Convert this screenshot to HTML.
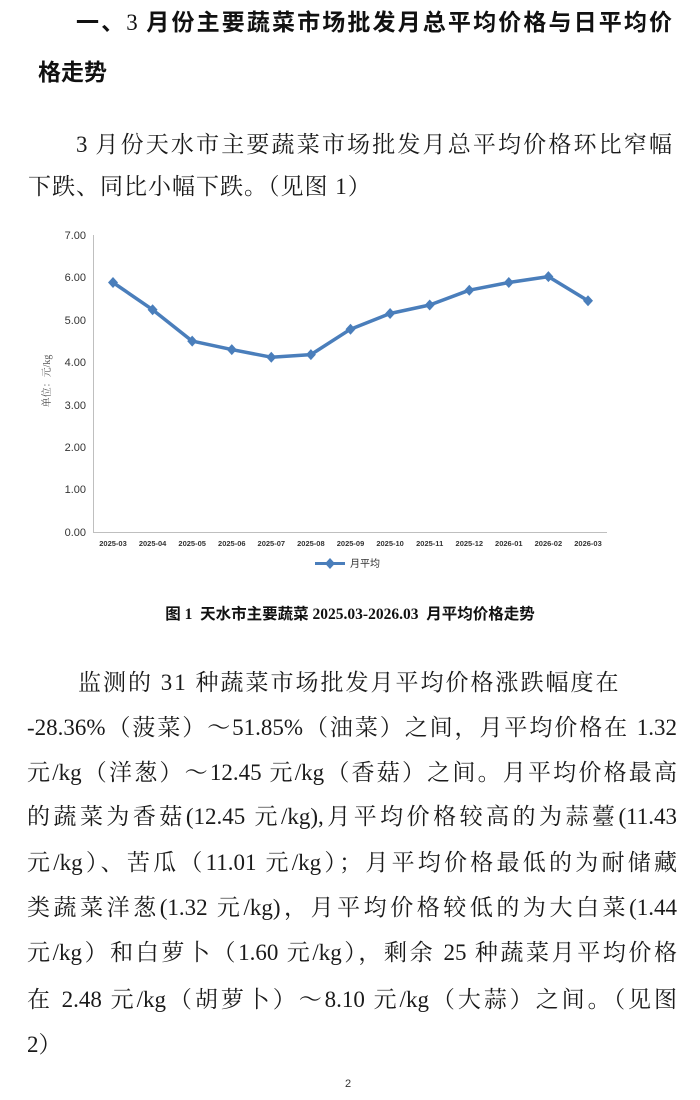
<!DOCTYPE html>
<html><head><meta charset="utf-8"><style>
body{margin:0;background:#fff;}
#p{position:relative;width:700px;height:1100px;overflow:hidden;background:#fff;color:#111;}
.t{position:absolute;white-space:nowrap;font-family:"Liberation Sans","Noto Sans CJK SC",sans-serif;font-weight:bold;font-size:23px;line-height:30px;}
.t .n{font-family:"Liberation Serif",serif;font-weight:normal;}
.b{position:absolute;white-space:nowrap;font-family:"Liberation Serif","Noto Serif CJK SC",serif;font-size:23px;line-height:30px;color:#1a1a1a;}
.j{left:27px;width:650px;text-align:justify;text-align-last:justify;}
</style></head><body><div id="p">
<div class="t" style="left:76px;top:7px;width:596px;text-align-last:justify;">一、<span class="n">3</span> 月份主要蔬菜市场批发月总平均价格与日平均价</div>
<div class="t" style="left:38px;top:57px;">格走势</div>
<div class="b" style="left:76px;top:130px;width:596px;text-align-last:justify;">3 月份天水市主要蔬菜市场批发月总平均价格环比窄幅</div>
<div class="b" style="left:28px;top:172px;letter-spacing:1px;">下跌、同比小幅下跌。（见图 1）</div>

<svg style="position:absolute;left:0;top:0" width="700" height="600" font-family="Liberation Sans, sans-serif">
<g stroke="#bfbfbf" stroke-width="1" fill="none">
<line x1="93.5" y1="235" x2="93.5" y2="532"/>
<line x1="93" y1="532.5" x2="607" y2="532.5"/>
</g>
<g font-size="11" fill="#333" text-anchor="end">
<text x="86" y="239">7.00</text><text x="86" y="281">6.00</text><text x="86" y="324">5.00</text><text x="86" y="366">4.00</text><text x="86" y="409">3.00</text><text x="86" y="451">2.00</text><text x="86" y="493">1.00</text><text x="86" y="536">0.00</text>
</g>
<text transform="translate(50,381) rotate(-90)" font-size="10" fill="#555" text-anchor="middle" font-family="Liberation Serif, Noto Serif CJK SC, serif">单位：元/kg</text>
<g font-size="7.5" font-weight="bold" fill="#333" text-anchor="middle">
<text x="113" y="546">2025-03</text><text x="152.6" y="546">2025-04</text><text x="192.2" y="546">2025-05</text><text x="231.8" y="546">2025-06</text><text x="271.3" y="546">2025-07</text><text x="310.9" y="546">2025-08</text><text x="350.5" y="546">2025-09</text><text x="390.1" y="546">2025-10</text><text x="429.7" y="546">2025-11</text><text x="469.3" y="546">2025-12</text><text x="508.8" y="546">2026-01</text><text x="548.4" y="546">2026-02</text><text x="588" y="546">2026-03</text>
</g>
<polyline fill="none" stroke="#4a7ebb" stroke-width="3.5" stroke-linejoin="round" points="113,282.5 152.6,309.7 192.2,341.1 231.8,349.6 271.3,357.2 310.9,354.6 350.5,329.2 390.1,313.5 429.7,305 469.3,290.2 508.8,282.5 548.4,276.6 588,300.8"/>
<g fill="#4a7ebb">
<path d="M113 277l5 5.5-5 5.5-5-5.5z"/><path d="M152.6 304.2l5 5.5-5 5.5-5-5.5z"/><path d="M192.2 335.6l5 5.5-5 5.5-5-5.5z"/><path d="M231.8 344.1l5 5.5-5 5.5-5-5.5z"/><path d="M271.3 351.7l5 5.5-5 5.5-5-5.5z"/><path d="M310.9 349.1l5 5.5-5 5.5-5-5.5z"/><path d="M350.5 323.7l5 5.5-5 5.5-5-5.5z"/><path d="M390.1 308l5 5.5-5 5.5-5-5.5z"/><path d="M429.7 299.5l5 5.5-5 5.5-5-5.5z"/><path d="M469.3 284.7l5 5.5-5 5.5-5-5.5z"/><path d="M508.8 277l5 5.5-5 5.5-5-5.5z"/><path d="M548.4 271.1l5 5.5-5 5.5-5-5.5z"/><path d="M588 295.3l5 5.5-5 5.5-5-5.5z"/>
<rect x="315" y="562" width="30" height="3"/><path d="M330 558l5 5.5-5 5.5-5-5.5z"/>
</g>
<text x="350" y="567" font-size="10" fill="#333" font-family="Liberation Sans, Noto Sans CJK SC, sans-serif">月平均</text>
</svg>

<div style="position:absolute;left:127px;top:604px;width:446px;text-align:center;white-space:nowrap;font-family:'Liberation Serif','Noto Sans CJK SC',serif;font-weight:bold;font-size:15.5px;line-height:22px;">图 1&nbsp; 天水市主要蔬菜 2025.03-2026.03&nbsp; 月平均价格走势</div>

<div class="b" style="left:78px;top:668px;letter-spacing:2px;">监测的 31 种蔬菜市场批发月平均价格涨跌幅度在</div>
<div class="b j" style="top:713px;">-28.36%（菠菜）～51.85%（油菜）之间，月平均价格在 1.32</div>
<div class="b j" style="top:758px;">元/kg（洋葱）～12.45 元/kg（香菇）之间。月平均价格最高</div>
<div class="b j" style="top:802px;">的蔬菜为香菇(12.45 元/kg),月平均价格较高的为蒜薹(11.43</div>
<div class="b j" style="top:848px;">元/kg）、苦瓜（11.01 元/kg）；月平均价格最低的为耐储藏</div>
<div class="b j" style="top:893px;">类蔬菜洋葱(1.32 元/kg)，月平均价格较低的为大白菜(1.44</div>
<div class="b j" style="top:938px;">元/kg）和白萝卜（1.60 元/kg），剩余 25 种蔬菜月平均价格</div>
<div class="b j" style="top:985px;">在 2.48 元/kg（胡萝卜）～8.10 元/kg（大蒜）之间。（见图</div>
<div class="b" style="left:27px;top:1030px;">2）</div>
<div style="position:absolute;left:345px;top:1078px;font-family:'Liberation Sans',sans-serif;font-size:11px;color:#333;">2</div>
</div></body></html>
